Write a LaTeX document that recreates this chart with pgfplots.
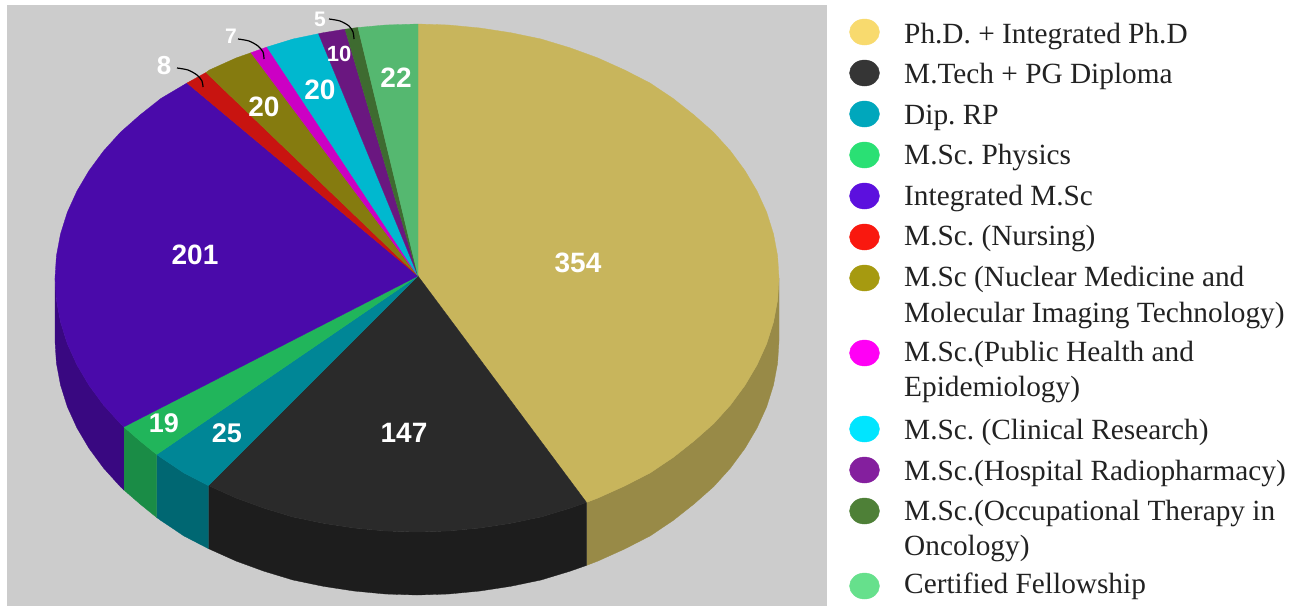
\documentclass[border=0pt]{standalone}
\usepackage{fontspec}
\setmainfont{Liberation Serif}
\newfontfamily\lsans{Liberation Sans}
\usepackage{pgfplots}
\pgfplotsset{compat=1.18}
\definecolor{cGold}{HTML}{C8B55C}\definecolor{cGoldS}{HTML}{988A47}
\definecolor{cBlk}{HTML}{2A2A2A}\definecolor{cBlkS}{HTML}{1D1D1D}
\definecolor{cTeal}{HTML}{008696}\definecolor{cTealS}{HTML}{006772}
\definecolor{cGrn}{HTML}{21B55B}\definecolor{cGrnS}{HTML}{1A8C46}
\definecolor{cPur}{HTML}{4A0AAA}\definecolor{cPurS}{HTML}{390881}
\definecolor{cRed}{HTML}{C81410}\definecolor{cOli}{HTML}{857B0F}
\definecolor{cMag}{HTML}{CC00C4}\definecolor{cCya}{HTML}{00B8CF}
\definecolor{cPu2}{HTML}{6A1780}\definecolor{cDgr}{HTML}{3E6B30}
\definecolor{cLgr}{HTML}{55B870}\definecolor{cTxt}{HTML}{222222}
\definecolor{b1}{HTML}{F8DA6E}\definecolor{b2}{HTML}{353535}\definecolor{b3}{HTML}{00A7BC}
\definecolor{b4}{HTML}{2AE074}\definecolor{b5}{HTML}{5C10DE}\definecolor{b6}{HTML}{F9180F}
\definecolor{b7}{HTML}{A69A10}\definecolor{b8}{HTML}{FF00F5}\definecolor{b9}{HTML}{00E5FF}
\definecolor{b10}{HTML}{841F9E}\definecolor{b11}{HTML}{4E8037}\definecolor{b12}{HTML}{66E08C}
\newcommand{\slice}[2]{\addplot[fill=#1,draw=#1,line width=0.3pt] coordinates {#2} -- cycle;}
\newcommand{\bul}[2]{\addplot[only marks,color=#1,mark=*,mark size=13pt,mark options={xscale=1.15,fill=#1,draw=#1}] coordinates {(864.5,#2)};}
\newcommand{\leg}[2]{\node[anchor=base west,inner sep=0pt,text=cTxt,font=\fontsize{29.3}{29.3}\selectfont\frenchspacing] at (axis cs:904,#1) {#2};}
\newcommand{\val}[4]{\node[text=white,inner sep=0pt,font=\lsans\bfseries\fontsize{#4}{#4}\selectfont] at (axis cs:#1,#2) {#3};}
\begin{document}
\begin{tikzpicture}
\begin{axis}[scale only axis,width=1298pt,height=606pt,xmin=0,xmax=1298,ymin=0,ymax=606,y dir=reverse,hide axis,clip=false]
\addplot[fill=white,draw=none] coordinates {(0,0)(1298,0)(1298,606)(0,606)} -- cycle;
\addplot[fill=black!20,draw=none] coordinates {(7,5)(827,5)(827,606)(7,606)} -- cycle;
% side walls
\slice{cGoldS}{(779,278)(777.6,300.1)(773.5,322)(766.7,343.7)(757,365)(745,385.3)(730.5,405)(713.6,423.7)(694,441)(673,457.6)(650,473)(624.6,486)(598,498)(586.5,502.4)(586.5,565.4)(598,561)(624.6,549)(650,536)(673,520.6)(694,504)(713.6,486.7)(730.5,468)(745,448.3)(757,428)(766.7,406.7)(773.5,385)(777.6,363.1)(779,341)}
\slice{cBlkS}{(586.5,502.4)(570,508.2)(541,517)(510.7,523.3)(480,528)(448.6,531)(417,532)(385.4,531)(354,528)(323.3,523.3)(293,517)(264,508.2)(236,498)(208.4,485.6)(208.4,548.6)(236,561)(264,571.2)(293,580)(323.3,586.3)(354,591)(385.4,594)(417,595)(448.6,594)(480,591)(510.7,586.3)(541,580)(570,571.2)(586.5,565.4)}
\slice{cTealS}{(208.4,485.6)(184,473)(161,457.6)(156.7,454.5)(156.7,517.5)(161,520.6)(184,536)(208.4,548.6)}
\slice{cGrnS}{(156.7,454.5)(140,441)(123.8,426.9)(123.8,489.9)(140,504)(156.7,517.5)}
\slice{cPurS}{(123.8,426.9)(120.4,423.7)(103.5,405)(89,385.3)(77,365)(67.3,343.7)(60.5,322)(56.4,300.1)(55,278)(55,341)(56.4,363.1)(60.5,385)(67.3,406.7)(77,428)(89,448.3)(103.5,468)(120.4,486.7)(123.8,489.9)}
% top face
\slice{cGold}{(418,276)(418,24)(448.6,25)(480,28)(510.7,32.7)(541,39)(570,47.8)(598,58)(624.6,70)(650,83)(673,98.4)(694,115)(713.6,132.3)(730.5,151)(745,170.7)(757,191)(766.7,212.3)(773.5,234)(777.6,255.9)(779,278)(777.6,300.1)(773.5,322)(766.7,343.7)(757,365)(745,385.3)(730.5,405)(713.6,423.7)(694,441)(673,457.6)(650,473)(624.6,486)(598,498)(586.5,502.4)}
\slice{cBlk}{(418,276)(586.5,502.4)(570,508.2)(541,517)(510.7,523.3)(480,528)(448.6,531)(417,532)(385.4,531)(354,528)(323.3,523.3)(293,517)(264,508.2)(236,498)(208.4,485.6)}
\slice{cTeal}{(418,276)(208.4,485.6)(184,473)(161,457.6)(156.7,454.5)}
\slice{cGrn}{(418,276)(156.7,454.5)(140,441)(123.8,426.9)}
\slice{cPur}{(418,276)(123.8,426.9)(120.4,423.7)(103.5,405)(89,385.3)(77,365)(67.3,343.7)(60.5,322)(56.4,300.1)(55,278)(56.4,255.9)(60.5,234)(67.3,212.3)(77,191)(89,170.7)(103.5,151)(120.4,132.3)(140,115)(161,98.4)(187,83)}
\slice{cRed}{(418,276)(187,83)(206,72.5)}
\slice{cOli}{(418,276)(206,72.5)(209.4,70)(236,58)(251,52.7)}
\slice{cMag}{(418,276)(251,52.7)(267,47)}
\slice{cCya}{(418,276)(267,47)(293,39)(318.5,33.7)}
\slice{cPu2}{(418,276)(318.5,33.7)(323.3,32.7)(345,29.2)}
\slice{cDgr}{(418,276)(345,29.2)(358,27.5)}
\slice{cLgr}{(418,276)(358,27.5)(385.4,25)(418,24)}
% leader lines
\addplot[black,line width=1.2pt,smooth] coordinates {(177,68)(188,70)(197,75)(202,81)(203,87)};
\addplot[black,line width=1.2pt,smooth] coordinates {(238,39)(249,41)(258,46)(263,52)(264,59)};
\addplot[black,line width=1.2pt,smooth] coordinates {(329,19)(340,21)(349,26)(353,32)(354,39)};
% value labels
\val{578}{263}{354}{28}
\val{404}{433}{147}{28}
\val{195}{255}{201}{28}
\val{164}{423}{19}{27}
\val{227}{433}{25}{27}
\val{396}{78}{22}{28}
\val{320}{90}{20}{28}
\val{264}{107}{20}{28}
\val{339}{54}{10}{22}
\val{164}{66}{8}{26}
\val{231}{36}{7}{21}
\val{320}{19}{5}{21}
% legend
\bul{b1}{32}\bul{b2}{73}\bul{b3}{114}\bul{b4}{155}\bul{b5}{196}\bul{b6}{237}
\bul{b7}{278}\bul{b8}{353}\bul{b9}{429}\bul{b10}{470}\bul{b11}{511}\bul{b12}{586}
\leg{43}{Ph.D. + Integrated Ph.D}
\leg{83}{M.Tech + PG Diploma}
\leg{124}{Dip. RP}
\leg{164}{M.Sc. Physics}
\leg{205}{Integrated M.Sc}
\leg{245}{M.Sc. (Nursing)}
\leg{286}{M.Sc (Nuclear Medicine and}
\leg{322}{Molecular Imaging Technology)}
\leg{361}{M.Sc.(Public Health and}
\leg{396}{Epidemiology)}
\leg{439}{M.Sc. (Clinical Research)}
\leg{480}{M.Sc.(Hospital Radiopharmacy)}
\leg{520}{M.Sc.(Occupational Therapy in}
\leg{555}{Oncology)}
\leg{593}{Certified Fellowship}
\end{axis}
\end{tikzpicture}
\end{document}
